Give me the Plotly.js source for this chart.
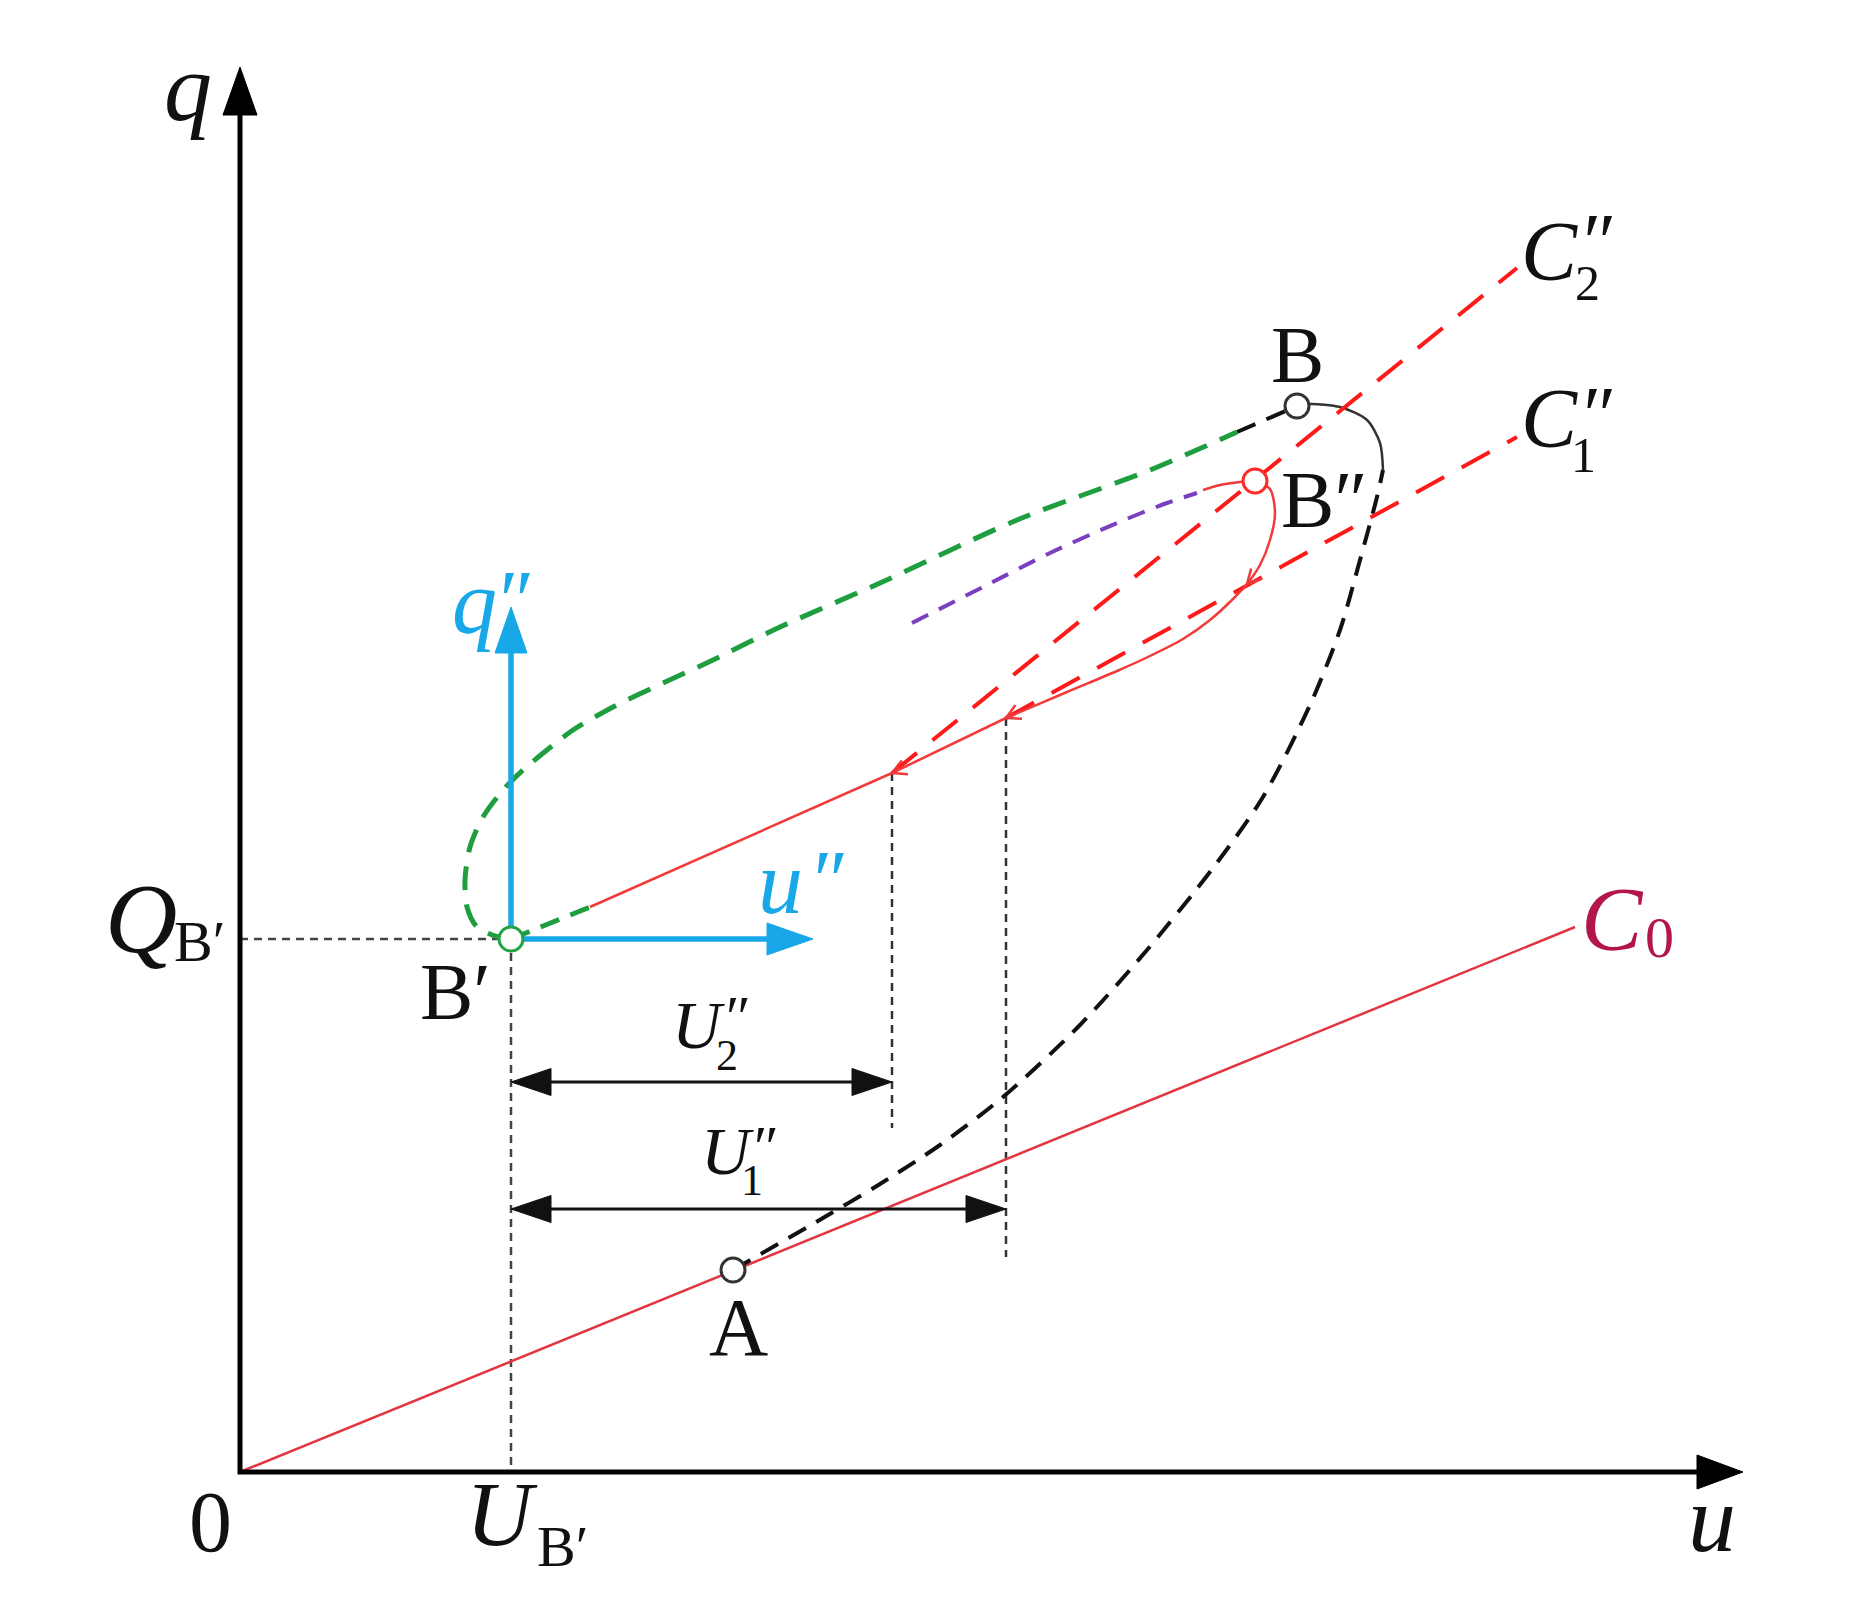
<!DOCTYPE html>
<html>
<head>
<meta charset="utf-8">
<script src="https://cdn.plot.ly/plotly-3.0.1.min.js"></script>
<style>
  html, body { margin: 0; padding: 0; background: #fff; }
  #plot { width: 1862px; height: 1612px; }
</style>
</head>
<body>
<div id="plot"></div>
<script>
// u-q diagram. 1 unit = 100 px, origin at the corner of the u/q axes
const PX = 100;

// main axes
const axisTopQ = 14.05;
const axisEndU = 15.03;

// characteristic C0 through the origin
const c0U = [0, 13.35];
const c0Q = [0, 5.45];

// dashed characteristics C2'' and C1''
const c2U = [6.52, 12.77];
const c2Q = [6.99, 12.04];
const c1U = [7.66, 12.77];
const c1Q = [7.54, 10.35];

// green dashed curve from B' up to the black part before B
const greenU = [2.71, 2.58, 2.37, 2.27, 2.25, 2.30, 2.43, 2.63, 2.83, 3.07, 3.33, 3.73, 4.23, 4.73, 5.40, 6.40, 7.77, 9.10, 9.97];
const greenQ = [5.33, 5.35, 5.45, 5.65, 5.92, 6.25, 6.55, 6.82, 7.02, 7.22, 7.42, 7.65, 7.89, 8.12, 8.45, 8.89, 9.52, 10.02, 10.40];
const greenShortU = [2.71, 3.50];
const greenShortQ = [5.33, 5.65];

// black dashed piece into B
const blackTailU = [9.97, 10.25, 10.57];
const blackTailQ = [10.40, 10.52, 10.66];

// red solid path: straight part B' -> C1'' foot, then curve up to B''
const redLineU = [3.50, 6.52, 7.66];
const redLineQ = [5.65, 6.99, 7.54];
const redCurveU = [7.66, 8.27, 8.77, 9.10, 9.43, 9.70, 9.93, 10.07, 10.20, 10.30, 10.35, 10.30, 10.15];
const redCurveQ = [7.54, 7.80, 8.01, 8.16, 8.33, 8.52, 8.73, 8.88, 9.07, 9.32, 9.59, 9.83, 9.91];
const redHookU = [9.63, 9.80, 10.00, 10.15];
const redHookQ = [9.82, 9.87, 9.90, 9.91];

// purple dashed curve
const purpleU = [6.72, 7.43, 8.10, 8.77, 9.27, 9.57];
const purpleQ = [8.49, 8.85, 9.19, 9.49, 9.69, 9.79];

// black curve A -> B (dashed, then solid near B)
const blackU = [4.93, 5.83, 6.40, 7.00, 7.63, 8.40, 9.07, 9.73, 10.23, 10.70, 11.00, 11.20, 11.37, 11.43];
const blackQ = [2.02, 2.54, 2.88, 3.27, 3.75, 4.47, 5.22, 6.04, 6.75, 7.67, 8.42, 9.12, 9.75, 10.02];
const blackArcU = [11.43, 11.40, 11.27, 11.00, 10.70, 10.57];
const blackArcQ = [10.02, 10.29, 10.52, 10.65, 10.68, 10.66];

// points A, B, B', B''
const ptU = [4.93, 10.57, 2.71, 10.15];
const ptQ = [2.02, 10.66, 5.33, 9.91];
const ptEdge = ['#333333', '#333333', '#22a444', '#ff2a2a'];

// guide lines
const uB = 2.71, qB = 5.33;
const u2 = 6.52, u2Top = 6.99, u2Bottom = 3.44;
const u1 = 7.66, u1Top = 7.54, u1Bottom = 2.15;
const dimQ2 = 3.90, dimQ1 = 2.63;

// blue local axes at B'
const blueTipQ = 8.65;
const blueTipU = 5.73;

// flow arrowheads on the red path (tip u, tip q, direction u, direction q)
const flowU = [6.52, 7.66, 10.07];
const flowQ = [6.99, 7.54, 8.88];
const flowDU = [-3.02, -1.14, -0.14];
const flowDQ = [-1.34, -0.55, -0.15];

// labels
const labelText = ['<i>q</i>', '<i>u</i>', '0', '<i>U</i>', 'B′', '<i>Q</i>', 'B′', 'B′', 'A', 'B', 'B″',
  '<i>q</i>', '<i>″</i>', '<i>u</i>', '<i>″</i>',
  '<i>C</i>', '<i>″</i>', '2', '<i>C</i>', '<i>″</i>', '1',
  '<i>U</i>', '<i>″</i>', '2', '<i>U</i>', '<i>″</i>', '1',
  '<i>C</i>', '0'];
const labelU = [-0.52, 14.72, -0.30, 2.62, 3.22, -0.99, -0.41, 2.15, 4.98, 10.57, 10.84,
  2.34, 2.72, 5.40, 5.86,
  13.09, 13.55, 13.47, 13.09, 13.55, 13.43,
  4.58, 4.95, 4.87, 4.87, 5.23, 5.12,
  13.72, 14.19];
const labelQ = [13.85, -0.46, -0.50, -0.42, -0.74, 5.54, 5.31, 4.80, 1.45, 11.17, 9.72,
  8.70, 8.72, 5.90, 5.92,
  12.21, 12.30, 11.89, 10.54, 10.57, 10.17,
  4.47, 4.55, 4.17, 3.21, 3.25, 2.92,
  5.53, 5.35];
const labelSize = [96, 96, 86, 92, 58, 100, 58, 80, 82, 80, 80,
  90, 84, 90, 84,
  84, 80, 50, 84, 80, 50,
  68, 60, 44, 68, 60, 44,
  92, 58];
const BLUE = '#18a8e8';
const labelColor = labelText.map((t, i) => {
  if (i >= 11 && i <= 14) return BLUE;
  if (i >= 27) return '#b2164c';
  return '#111111';
});

const traces = [];

function line(u, q, color, width, dash) {
  traces.push({
    x: u, y: q, type: 'scatter', mode: 'lines',
    line: { color: color, width: width, dash: dash || 'solid', shape: 'spline', smoothing: 0.8 },
    hoverinfo: 'skip', showlegend: false,
  });
}

function straight(u, q, color, width, dash) {
  traces.push({
    x: u, y: q, type: 'scatter', mode: 'lines',
    line: { color: color, width: width, dash: dash || 'solid' },
    hoverinfo: 'skip', showlegend: false,
  });
}

// filled triangular arrowhead, len/wid in px
function head(tu, tq, du, dq, len, wid, color) {
  const n = Math.hypot(du, dq);
  const ex = du / n, ey = dq / n;
  const bu = tu - ex * len / PX, bq = tq - ey * len / PX;
  const h = wid / 2 / PX;
  traces.push({
    x: [tu, bu - ey * h, bu + ey * h, tu],
    y: [tq, bq + ex * h, bq - ex * h, tq],
    type: 'scatter', mode: 'lines', fill: 'toself', fillcolor: color,
    line: { color: color, width: 1 }, hoverinfo: 'skip', showlegend: false,
  });
}

// open V arrowhead
function vhead(tu, tq, du, dq, len, ang, color, width) {
  const n = Math.hypot(du, dq);
  const ex = du / n, ey = dq / n;
  const a = ang * Math.PI / 180;
  const l = len / PX;
  const r1u = -(ex * Math.cos(a) - ey * Math.sin(a)), r1q = -(ex * Math.sin(a) + ey * Math.cos(a));
  const r2u = -(ex * Math.cos(-a) - ey * Math.sin(-a)), r2q = -(ex * Math.sin(-a) + ey * Math.cos(-a));
  straight([tu + r1u * l, tu, tu + r2u * l], [tq + r1q * l, tq, tq + r2q * l], color, width);
}

// guide dotted lines
straight([0, uB], [qB, qB], '#444444', 2.5, '8px,6px');
straight([uB, uB], [qB, 0], '#444444', 2.5, '8px,6px');
straight([u2, u2], [u2Top, u2Bottom], '#333333', 2.5, '8px,6px');
straight([u1, u1], [u1Top, u1Bottom], '#333333', 2.5, '8px,6px');

// C0
straight(c0U, c0Q, '#e2353f', 2.5);

// dimension arrows
straight([uB + 0.2, u2 - 0.2], [dimQ2, dimQ2], '#111111', 3);
head(uB, dimQ2, -1, 0, 40, 27, '#111111');
head(u2, dimQ2, 1, 0, 40, 27, '#111111');
straight([uB + 0.2, u1 - 0.2], [dimQ1, dimQ1], '#111111', 3);
head(uB, dimQ1, -1, 0, 40, 27, '#111111');
head(u1, dimQ1, 1, 0, 40, 27, '#111111');

// black curve A -> B
line(blackU, blackQ, '#111111', 4, '20px,12px');
line(blackArcU, blackArcQ, '#333333', 2.5);
straight(blackTailU, blackTailQ, '#111111', 4, '20px,12px');

// dashed characteristics
straight(c2U, c2Q, '#ff1a1a', 4, '32px,20px');
straight(c1U, c1Q, '#ff1a1a', 4, '32px,20px');

// red path and flow marks
straight(redLineU, redLineQ, '#f23a3a', 2.5);
line(redCurveU, redCurveQ, '#f23a3a', 2.5);
line(redHookU, redHookQ, '#f23a3a', 2.5);
flowU.forEach((u, i) => vhead(u, flowQ[i], flowDU[i], flowDQ[i], 16, 28, '#f23a3a', 2.5));

// purple and green dashed
line(purpleU, purpleQ, '#7b3fc2', 4, '18px,12px');
line(greenU, greenQ, '#1e9e3e', 5, '24px,14px');
straight(greenShortU, greenShortQ, '#1e9e3e', 5, '20px,12px');

// blue local axes
straight([uB, uB], [qB, blueTipQ - 0.4], BLUE, 5.5);
head(uB, blueTipQ, 0, 1, 46, 32, BLUE);
straight([uB, blueTipU - 0.4], [qB, qB], BLUE, 5.5);
head(blueTipU, qB, 1, 0, 46, 32, BLUE);

// main axes
straight([0, 0, axisEndU - 0.4], [axisTopQ - 0.4, 0, 0], '#000000', 5);
head(0, axisTopQ, 0, 1, 48, 34, '#000000');
head(axisEndU, 0, 1, 0, 46, 34, '#000000');

// state points
traces.push({
  x: ptU, y: ptQ, type: 'scatter', mode: 'markers',
  marker: { size: 24, color: '#ffffff', line: { color: ptEdge, width: 3 } },
  hoverinfo: 'skip', showlegend: false,
});

const annotations = labelText.map((t, i) => ({
  x: labelU[i], y: labelQ[i], xref: 'x', yref: 'y', text: t, showarrow: false,
  xanchor: 'center', yanchor: 'middle',
  font: { family: 'Liberation Serif, DejaVu Serif, serif', size: labelSize[i], color: labelColor[i] },
}));

const layout = {
  width: 1862, height: 1612,
  margin: { l: 0, r: 0, t: 0, b: 0 },
  paper_bgcolor: '#ffffff', plot_bgcolor: '#ffffff',
  xaxis: { range: [-2.4, 16.22], visible: false, fixedrange: true },
  yaxis: { range: [-1.4, 14.72], visible: false, fixedrange: true },
  annotations: annotations,
  showlegend: false,
};

Plotly.newPlot('plot', traces, layout, { staticPlot: true, displayModeBar: false });
</script>
</body>
</html>
